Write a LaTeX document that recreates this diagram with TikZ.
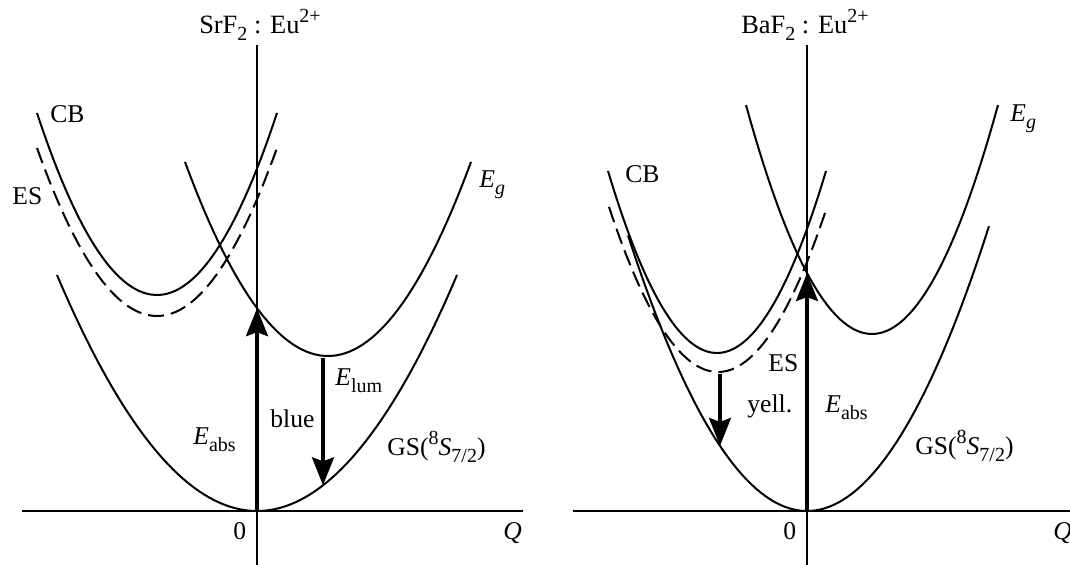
\documentclass[tikz,border=0pt]{standalone}
\usepackage{fontspec}
\setmainfont{Liberation Serif}
\usetikzlibrary{arrows.meta}
\newcommand{\lsub}[1]{\raisebox{-0.26em}{\fontsize{10}{12}\selectfont #1}}
\newcommand{\lsup}[1]{\raisebox{0.45em}{\fontsize{10}{12}\selectfont #1}}
\begin{document}
\begin{tikzpicture}[x=0.5pt,y=-0.5pt,
  curve/.style={line width=1pt},
  esdash/.style={line width=1pt, dash pattern=on 8pt off 3.5pt},
  axisline/.style={line width=0.6pt},
  transition/.style={line width=1.6pt, -{Stealth[length=14pt,width=11pt,inset=2pt]}},
  lbl/.style={font=\fontsize{12.8}{15}\selectfont, inner sep=0pt, anchor=base west},
  ttl/.style={font=\fontsize{13.2}{15}\selectfont, inner sep=0pt, anchor=base}]
\useasboundingbox (0,0) rectangle (1070,565);

% ---------------- left panel: SrF2:Eu2+ ----------------
\coordinate (LxA) at (22,511);
\coordinate (LxB) at (523,511);
\coordinate (LyA) at (257,45);
\coordinate (LyB) at (257,565);
\draw[axisline] (LxA) -- (LxB);
\draw[axisline] (LyA) -- (LyB);
% GS
\draw[curve] plot[domain=-200:200,samples=80] ({257+\x},{511-59*(\x/100)^2});
% CB
\draw[curve] plot[domain=-120:120,samples=60] ({157+\x},{295-126.4*(\x/100)^2});
% ES dashed
\draw[esdash] plot[domain=-120:121,samples=60] ({157+\x},{316-116.7*(\x/100)^2});
% Eg
\draw[curve] plot[domain=-143:143,samples=60] ({328+\x},{356-94.9*(\x/100)^2});

\coordinate (LabsS) at (257,511);
\coordinate (LabsE) at (257,308.2);
\coordinate (LlumS) at (323,358.5);
\coordinate (LlumE) at (323,485.3);
\draw[transition] (LabsS) -- (LabsE);
\draw[transition] (LlumS) -- (LlumE);

\node[ttl] (Ltitle) at (260,34) {SrF\lsub{2} : Eu\lsup{2+}};
\node[lbl] (LCB) at (50,123) {CB};
\node[lbl] (LES) at (12,205) {ES};
\node[lbl] (LEg) at (479,188) {\textit{E}\lsub{\textit{g}}};
\node[lbl] (LEabs) at (193,445) {\textit{E}\lsub{abs}};
\node[lbl] (Lblue) at (270,428) {blue};
\node[lbl] (LElum) at (335,386) {\textit{E}\lsub{lum}};
\node[lbl] (LGS) at (387,456) {GS(\lsup{8}\textit{S}\lsub{7/2})};
\node[lbl] (Lzero) at (233,540) {0};
\node[lbl] (LQ) at (503,540) {\textit{Q}};

% ---------------- right panel: BaF2:Eu2+ ----------------
\coordinate (RxA) at (573,511);
\coordinate (RxB) at (1070,511);
\coordinate (RyA) at (807,45);
\coordinate (RyB) at (807,565);
\draw[axisline] (RxA) -- (RxB);
\draw[axisline] (RyA) -- (RyB);
% GS
\draw[curve] plot[domain=-179:182,samples=80] ({807+\x},{511-86*(\x/100)^2});
% CB
\draw[curve] plot[domain=-109:109,samples=60] ({717+\x},{353-153.2*(\x/100)^2});
% ES dashed
\draw[esdash] plot[domain=-109:109,samples=60] ({718+\x},{372-138.9*(\x/100)^2});
% Eg
\draw[curve] plot[domain=-126:126,samples=60] ({872+\x},{334-144.2*(\x/100)^2});

\coordinate (RabsS) at (807,511);
\coordinate (RabsE) at (807,273.1);
\coordinate (RyelS) at (720,374);
\coordinate (RyelE) at (720,445.9);
\draw[transition] (RabsS) -- (RabsE);
\draw[transition] (RyelS) -- (RyelE);

\node[ttl] (Rtitle) at (805,34) {BaF\lsub{2} : Eu\lsup{2+}};
\node[lbl] (RCB) at (625,183) {CB};
\node[lbl] (RES) at (768,372) {ES};
\node[lbl] (REg) at (1010,122) {\textit{E}\lsub{\textit{g}}};
\node[lbl] (Ryell) at (747,413) {yell.};
\node[lbl] (REabs) at (825,413) {\textit{E}\lsub{abs}};
\node[lbl] (RGS) at (915,455) {GS(\lsup{8}\textit{S}\lsub{7/2})};
\node[lbl] (Rzero) at (783,540) {0};
\node[lbl] (RQ) at (1053,540) {\textit{Q}};
\end{tikzpicture}
\end{document}
